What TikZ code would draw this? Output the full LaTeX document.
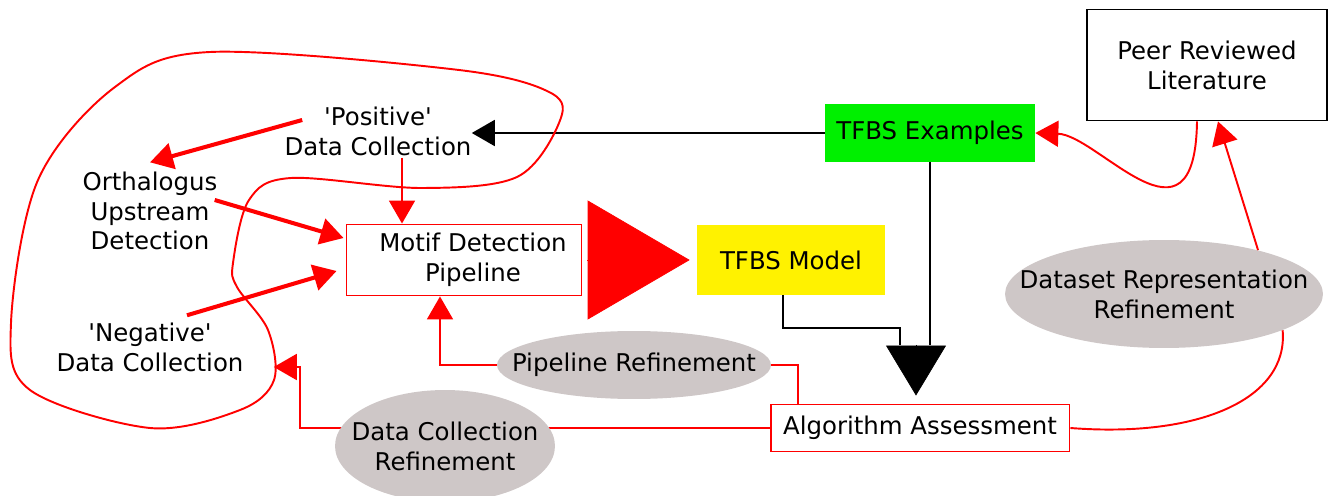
\documentclass[tikz,border=0pt]{standalone}
\usepackage{fontspec}
\setmainfont{DejaVu Sans}
\usetikzlibrary{arrows.meta,calc,shapes.geometric,backgrounds}
\definecolor{refgray}{RGB}{206,199,199}
\definecolor{exgreen}{RGB}{0,240,0}
\tikzstyle{flow chart}=[
    x=0.02cm, y=-0.02cm,
    >={Triangle[length=0.46cm,width=0.52cm]},
    every node/.style={
        align=center,
        font=\fontsize{13.9pt}{17pt}\selectfont,
    },
]
\tikzstyle{plain box}=[draw, line width=1.1pt, inner sep=0pt]
\tikzstyle{red box}=[plain box, draw=red]
\tikzstyle{filled box}=[inner sep=0pt]
\tikzstyle{text only}=[inner sep=0pt]
\tikzstyle{refinement}=[ellipse, fill=refgray, inner sep=0pt]
\tikzstyle{thick link}=[->, red, line width=2.3pt]
\tikzstyle{thin link}=[red, line width=1.1pt]
\tikzstyle{black link}=[black, line width=1.1pt]
\newcommand{\quoted}[1]{\textquotesingle#1\textquotesingle}
\newcommand{\nudged}[1]{\hspace*{0.36cm}#1}

\begin{document}
\begin{tikzpicture}[flow chart]
    \useasboundingbox (0,0) rectangle (1328,496);

    % boxes
    \node[plain box, minimum width=4.8cm, minimum height=2.22cm] (peer) at (1207,65) {Peer Reviewed\\Literature};
    \node[filled box, fill=exgreen, minimum width=4.2cm, minimum height=1.16cm] (examples) at (930,133) {TFBS Examples};
    \node[filled box, fill=yellow, minimum width=3.76cm, minimum height=1.4cm] (model) at (791,260) {TFBS Model};
    \node[red box, minimum width=4.7cm, minimum height=1.42cm] (motif) at (464,260) {\nudged{Motif Detection}\\\nudged{Pipeline}};
    \node[red box, minimum width=5.98cm, minimum height=0.94cm] (assess) at (920,428) {Algorithm Assessment};

    % data collection
    \node[text only] (positive) at (378,131) {\quoted{Positive}\\Data Collection};
    \node[text only] (ortho) at (150,211) {Orthalogus\\Upstream\\Detection};
    \node[text only] (negative) at (150,347) {\quoted{Negative}\\Data Collection};

    % refinements
    \node[refinement, minimum width=5.48cm, minimum height=1.36cm, label={center:Pipeline Refinement}] (pipeline) at (634,365) {};
    \node[refinement, minimum width=4.4cm, minimum height=2.24cm, label={center:Data Collection\\Refinement}] (dcr) at (445,446) {};
    \node[refinement, minimum width=6.36cm, minimum height=2.16cm, label={center:Dataset Representation\\Refinement}] (drr) at (1164,294) {};

    \coordinate (merge) at (916,345);

    \path
        ($(positive.west)+(18,-11)$) edge[thick link] ($(ortho.north)+(0,-9)$)
        ($(ortho.east)+(-3,-11)$) edge[thick link] ($(motif.west)+(-2,-22)$)
        ($(negative.north)+(37,-7)$) edge[thick link] ($(motif.west)+(-9,11)$)
        ($(positive.south)+(24,2)$) edge[thin link, ->] ($(motif.north)+(-62,0)$)
    ;

    % big heads
    \draw[red, -{Triangle[length=2.04cm,width=2.38cm]}, shorten <=0.1cm, shorten >=0.14cm] (motif.east) -- (model.west);
    \draw[black, -{Triangle[length=1.0cm,width=1.2cm]}, shorten >=0.16cm] (merge) -- (merge |- assess.north);

    \draw[black link, ->] (examples.west) -- (positive.east |- examples.west);
    \draw[black link] (examples.south) -- (examples.south |- merge);
    \draw[black link] ($(model.south)+(-8,0)$) -- ++(0,33) -| ($(merge)+(-16,0)$);

    \begin{scope}[on background layer]
        \draw[thin link, ->] (assess.west) -- ($(assess.west)+(-470,0)$) |- ($(negative.east)+(30,20)$);
    \end{scope}
    \draw[thin link, ->] (pipeline.west) -| ($(motif.south)+(-24,0)$);
    \draw[thin link] (pipeline.east) -| ($(assess.north)+(-122,0)$);
    \draw[thin link, ->] (drr.25) -- ($(peer.south)+(11,0)$);
    \draw[thin link] (assess.east) .. controls +(128,10) and +(6,69) .. (drr.-17);
    \draw[thin link, ->] ($(peer.south)+(-10,0)$) .. controls +(-2,140) and +(63,2) .. (examples.east);

    % the loop
    \draw[thin link] plot[smooth cycle, tension=0.55] coordinates {(268,330) (237,287) (233,263) (249,200) (291,178) (421,188) (517,177) (559,123) (551,93) (459,70) (210,52) (115,87) (38,180) (11,323) (30,390) (150,428) (240,410) (274,380)};
\end{tikzpicture}
\end{document}
